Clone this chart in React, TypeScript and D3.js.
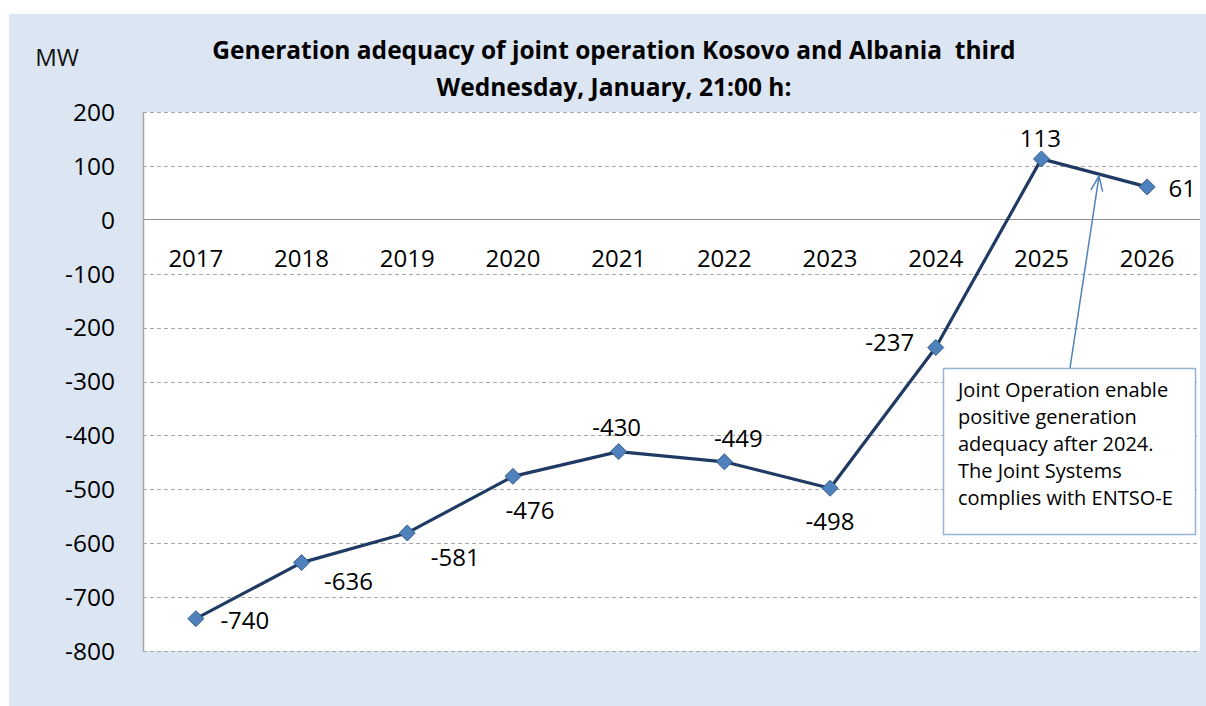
import React from "react";
import * as d3 from "d3";

const years = ["2017", "2018", "2019", "2020", "2021", "2022", "2023", "2024", "2025", "2026"];
const adequacy = [-740, -636, -581, -476, -430, -449, -498, -237, 113, 61];
const yTicks = [200, 100, 0, -100, -200, -300, -400, -500, -600, -700, -800];
// label placement relative to the point (dx, dy)
const labelOffsets: [number, number][] = [
  [49, 2], [47, 19], [48, 24], [17, 34], [-2, -24], [14, -23], [0, 33], [-46, -5], [-1, -21], [35, 1],
];
const titleLines = [
  "Generation adequacy of joint operation Kosovo and Albania  third",
  "Wednesday, January, 21:00 h:",
];
const noteLines = [
  "Joint Operation enable",
  "positive generation",
  "adequacy after 2024.",
  "The Joint Systems",
  "complies with ENTSO-E",
];

const FONT = "'Open Sans', 'Liberation Sans', sans-serif";

export default function App() {
  const W = 1206, H = 706;
  const plot = { left: 143, right: 1200, top: 112, bottom: 651 };
  const x = d3.scaleBand<string>().domain(years).range([plot.left, plot.right]);
  const y = d3.scaleLinear().domain([-800, 200]).range([plot.bottom, plot.top]);
  const cx = (c: string) => (x(c) as number) + x.bandwidth() / 2;
  const line = d3.line<number>().x((_, i) => cx(years[i])).y((v) => y(v));

  // annotation arrow
  const arrowStart: [number, number] = [1070, 368];
  const arrowTip: [number, number] = [1099, 176];
  const ang = Math.atan2(arrowTip[1] - arrowStart[1], arrowTip[0] - arrowStart[0]);
  const ah = 16, aw = 0.38;
  const a1: [number, number] = [arrowTip[0] - ah * Math.cos(ang - aw), arrowTip[1] - ah * Math.sin(ang - aw)];
  const a2: [number, number] = [arrowTip[0] - ah * Math.cos(ang + aw), arrowTip[1] - ah * Math.sin(ang + aw)];

  return (
    <svg width={W} height={H} style={{ position: "absolute", left: 0, top: 0, display: "block" }}>
      <rect x={0} y={0} width={W} height={H} fill="#ffffff" />
      <rect x={9} y={14} width={W - 9} height={H - 14} fill="#dce6f2" />
      <rect x={plot.left} y={plot.top} width={plot.right - plot.left} height={plot.bottom - plot.top} fill="#ffffff" />

      {/* gridlines */}
      {yTicks.map((t) =>
        t === 0 ? null : (
          <line key={t} x1={plot.left} x2={plot.right} y1={Math.round(y(t)) + 0.5} y2={Math.round(y(t)) + 0.5}
            stroke="#a6a6a6" strokeWidth={1} strokeDasharray="4,3" />
        )
      )}
      <line x1={plot.left} x2={plot.right} y1={Math.round(y(0)) - 0.5} y2={Math.round(y(0)) - 0.5} stroke="#8c8c8c" strokeWidth={1} />
      <line x1={plot.left + 0.5} x2={plot.left + 0.5} y1={plot.top} y2={plot.bottom} stroke="#a6a6a6" strokeWidth={1.5} />

      {/* y tick labels */}
      {yTicks.map((t) => (
        <text key={t} x={115} y={y(t)} dy="0.36em" textAnchor="end" fontFamily={FONT} fontSize={24.5} fill="#000">
          {t}
        </text>
      ))}
      <text x={57} y={57} dy="0.36em" textAnchor="middle" fontFamily={FONT} fontSize={24} fill="#111">MW</text>

      {/* category labels */}
      {years.map((c) => (
        <text key={c} x={cx(c)} y={258} dy="0.36em" textAnchor="middle" fontFamily={FONT} fontSize={24} fill="#000">
          {c}
        </text>
      ))}

      {/* title */}
      {titleLines.map((t, i) => (
        <text key={i} x={614} y={50 + i * 37} dy="0.36em" textAnchor="middle" fontFamily={FONT} fontWeight="bold"
          fontSize={24.5} fill="#000" style={{ whiteSpace: "pre" }}>
          {t}
        </text>
      ))}

      {/* series */}
      <path d={line(adequacy) || ""} fill="none" stroke="#1f3b63" strokeWidth={3.2} strokeLinejoin="round" />
      {adequacy.map((v, i) => {
        const px = cx(years[i]), py = y(v), r = 8;
        return (
          <path key={i} d={`M${px},${py - r}L${px + r},${py}L${px},${py + r}L${px - r},${py}Z`}
            fill="#4f81bd" stroke="#385d8a" strokeWidth={1} />
        );
      })}
      {adequacy.map((v, i) => (
        <text key={i} x={cx(years[i]) + labelOffsets[i][0]} y={y(v) + labelOffsets[i][1]} dy="0.36em"
          textAnchor="middle" fontFamily={FONT} fontSize={24} fill="#000">
          {v}
        </text>
      ))}

      {/* annotation */}
      <line x1={arrowStart[0]} y1={arrowStart[1]} x2={arrowTip[0]} y2={arrowTip[1]} stroke="#4f81bd" strokeWidth={1.5} />
      <path d={`M${a1[0]},${a1[1]}L${arrowTip[0]},${arrowTip[1]}L${a2[0]},${a2[1]}`} fill="none" stroke="#4f81bd" strokeWidth={1.5} />
      <rect x={943.5} y={368.5} width={252} height={166} fill="#ffffff" stroke="#95b3d7" strokeWidth={1.5} />
      {noteLines.map((t, i) => (
        <text key={i} x={958} y={397 + i * 27} fontFamily={FONT} fontSize={20} fill="#000">
          {t}
        </text>
      ))}
    </svg>
  );
}
